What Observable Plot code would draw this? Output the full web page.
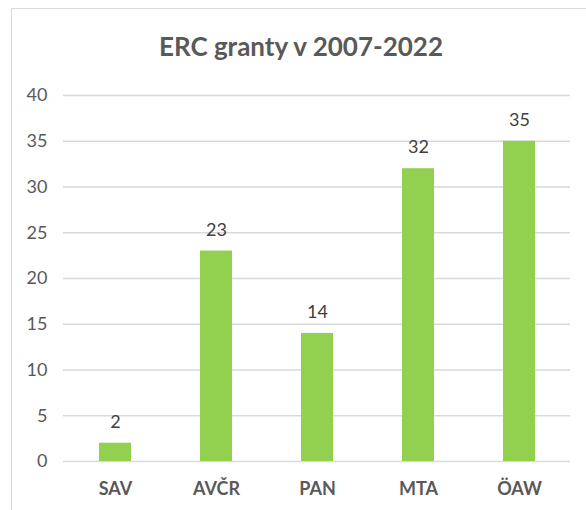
<!DOCTYPE html>
<html>
<head>
<meta charset="utf-8">
<script src="https://cdn.jsdelivr.net/npm/d3@7"></script>
<script src="https://cdn.jsdelivr.net/npm/@observablehq/plot@0.6"></script>
<style>
  html, body { margin: 0; padding: 0; background: #fff; }
  #wrap { position: relative; width: 586px; height: 510px; overflow: hidden; font-family: Lato, "Open Sans", sans-serif; }
  #border { position: absolute; left: 11px; top: 8px; width: 600px; height: 600px; border: 1.5px solid #d9d9d9; box-sizing: border-box; }
  #title { position: absolute; left: 0; width: 602px; top: 30px; text-align: center; font-size: 26px; font-weight: bold; color: #595959; }
  #chart { position: absolute; left: 0; top: 0; }
</style>
</head>
<body>
<div id="wrap">
  <div id="border"></div>
  <div id="chart"></div>
  <div id="title">ERC granty v 2007-2022</div>
</div>
<script>
const categories = ["SAV", "AVČR", "PAN", "MTA", "ÖAW"];
const values = [2, 23, 14, 32, 35];
const yTicks = [0, 5, 10, 15, 20, 25, 30, 35, 40];

const data = categories.map((c, i) => ({ category: c, value: values[i] }));

const chart = Plot.plot({
  width: 586,
  height: 510,
  marginLeft: 63,
  marginRight: 16,
  marginTop: 95,
  marginBottom: 49,
  style: { fontFamily: "Lato, 'Open Sans', sans-serif", background: "transparent" },
  x: { domain: categories, paddingInner: 0.684, paddingOuter: 0.342, label: null },
  y: { domain: [0, 40], ticks: yTicks, label: null },
  marks: [
    Plot.ruleY(yTicks, { stroke: "#d9d9d9", strokeWidth: 1.3 }),
    Plot.barY(data, { x: "category", y: "value", fill: "#92d050" }),
    Plot.text(data, { x: "category", y: "value", text: d => String(d.value), dy: -21, fontSize: 18, fill: "#404040" }),
    Plot.axisY({ ticks: yTicks, tickSize: 0, tickPadding: 16, fontSize: 18, fill: "#595959", label: null }),
    Plot.axisX({ tickSize: 0, tickPadding: 21, fontSize: 18, fontWeight: "bold", fill: "#595959", label: null })
  ]
});
document.getElementById("chart").appendChild(chart);
</script>
</body>
</html>
